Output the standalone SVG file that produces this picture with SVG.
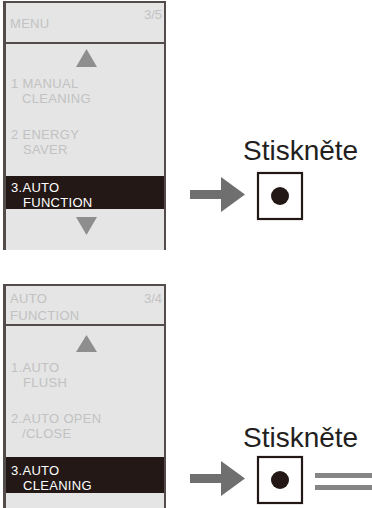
<svg xmlns="http://www.w3.org/2000/svg" width="372" height="508" viewBox="0 0 372 508">
<style>
.bg{fill:#e5e5e5}
.bd{stroke:#544c4b;fill:none}
.hl{fill:#231815}
.t{font-family:"Liberation Sans",Arial,sans-serif;font-size:13px;fill:#c2c2c2;letter-spacing:0.3px}
.tw{font-family:"Liberation Sans",Arial,sans-serif;font-size:13px;fill:#ffffff;letter-spacing:0.3px}
.pg{font-family:"Liberation Sans",Arial,sans-serif;font-size:13px;fill:#c2c2c2}
.tri{fill:#8e8e8e}
.lbl{font-family:"Liberation Sans",Arial,sans-serif;font-size:28px;fill:#231f20}
.arr{fill:#6f6f6f}
.btn{fill:#ffffff;stroke:#231815;stroke-width:2.2}
.dot{fill:#231815}
.eq{fill:#858585}
</style>
<rect width="372" height="508" fill="#ffffff"/>
<g id="panel1">
<rect class="bg" x="3" y="2" width="162" height="248"/>
<line class="bd" x1="4.5" y1="1" x2="4.5" y2="250" stroke-width="3"/>
<line class="bd" x1="3" y1="2" x2="166" y2="2" stroke-width="2"/>
<line class="bd" x1="165" y1="1" x2="165" y2="250" stroke-width="2"/>
<line class="bd" x1="3" y1="43" x2="166" y2="43" stroke-width="2"/>
<text class="t" x="10" y="28">MENU</text>
<text class="pg" x="162" y="19" text-anchor="end">3/5</text>
<polygon class="tri" points="86.5,49 76,67 97,67"/>
<text class="t" x="11" y="88">1 MANUAL</text>
<text class="t" x="22" y="103">CLEANING</text>
<text class="t" x="11" y="139">2 ENERGY</text>
<text class="t" x="23" y="154">SAVER</text>
<rect class="hl" x="6" y="176" width="158" height="33"/>
<text class="tw" x="11" y="192">3.AUTO</text>
<text class="tw" x="23" y="207">FUNCTION</text>
<polygon class="tri" points="76,217 97,217 86.5,235"/>
</g>
<g id="panel2">
<rect class="bg" x="3" y="285" width="162" height="223"/>
<line class="bd" x1="4.5" y1="284" x2="4.5" y2="508" stroke-width="3"/>
<line class="bd" x1="3" y1="285" x2="166" y2="285" stroke-width="2"/>
<line class="bd" x1="165" y1="284" x2="165" y2="508" stroke-width="2"/>
<line class="bd" x1="3" y1="325" x2="166" y2="325" stroke-width="2"/>
<text class="t" x="10" y="303">AUTO</text>
<text class="t" x="10" y="320">FUNCTION</text>
<text class="pg" x="162" y="303" text-anchor="end">3/4</text>
<polygon class="tri" points="86.5,335 76,352 97,352"/>
<text class="t" x="11" y="372">1.AUTO</text>
<text class="t" x="23" y="387">FLUSH</text>
<text class="t" x="11" y="423">2.AUTO OPEN</text>
<text class="t" x="22" y="438">/CLOSE</text>
<rect class="hl" x="6" y="457" width="158" height="36"/>
<text class="tw" x="11" y="475">3.AUTO</text>
<text class="tw" x="23" y="490">CLEANING</text>
</g>
<g id="connectors">
<polygon class="arr" points="190,190 221,190 221,177 245,194.5 221,212 221,199 190,199"/>
<polygon class="arr" points="190,474 221,474 221,461 245,478.5 221,496 221,483 190,483"/>
</g>
<g id="press1">
<text class="lbl" x="243" y="160">Stiskněte</text>
<rect class="btn" x="258" y="173" width="44" height="46"/>
<circle class="dot" cx="280" cy="196" r="9"/>
</g>
<g id="press2">
<text class="lbl" x="243" y="447">Stiskněte</text>
<rect class="btn" x="258" y="457" width="44" height="46"/>
<circle class="dot" cx="280" cy="480" r="9"/>
<rect class="eq" x="315" y="473" width="57" height="5"/>
<rect class="eq" x="315" y="485" width="57" height="5"/>
</g>
</svg>
